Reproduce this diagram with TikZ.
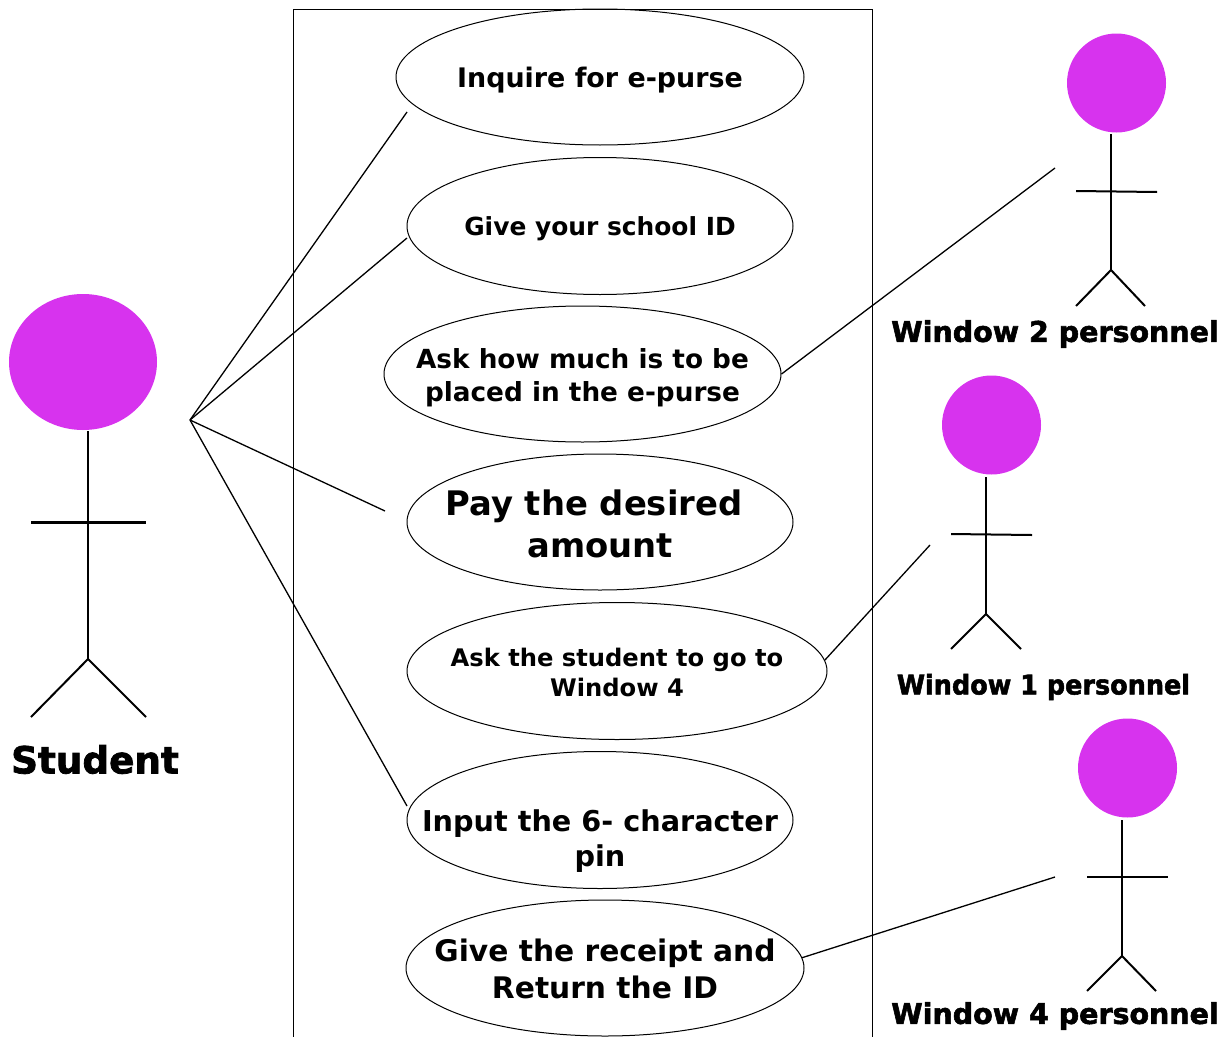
\documentclass[tikz,border=0pt]{standalone}
\usepackage{fontspec}
\setmainfont{DejaVu Sans}
\newfontfamily\heavyfont[FakeBold=2]{DejaVu Sans Bold}
\usetikzlibrary{shapes.geometric}
\definecolor{actorfill}{HTML}{D733EE}
\tikzset{
  x=1pt,y=-1pt,
  usecase/.style={draw,ellipse,inner sep=0pt,line width=1pt},
  uctext/.style={align=center,inner sep=0pt,font=\bfseries\fontsize{#1}{#1}\selectfont},
  head/.style={ellipse,fill=actorfill,inner sep=0pt},
  stick/.style={line width=2pt},
  bigstick/.style={line width=2.6pt},
  conn/.style={line width=1.3pt},
  actorlabel/.style={inner sep=0pt},
}
\begin{document}
\begin{tikzpicture}
\useasboundingbox (0,0) rectangle (1231,1036);
\draw[line width=1pt] (293,1040) -- (293,9) -- (872,9) -- (872,1040);

\node[usecase,minimum width=408pt,minimum height=136pt] (e1) at (600,77) {};
\node[uctext=26.9] (t1) at (600,80) {Inquire for e-purse};
\node[usecase,minimum width=386pt,minimum height=137pt] (e2) at (600,226) {};
\node[uctext=24.9] (t2) at (600,229) {Give your school ID};
\node[usecase,minimum width=397pt,minimum height=136pt] (e3) at (582.5,374) {};
\node[uctext=26.3,font=\bfseries\fontsize{26.3}{33}\selectfont] (t3) at (582.5,377.5) {Ask how much is to be\\placed in the e-purse};
\node[usecase,minimum width=386pt,minimum height=136pt] (e4) at (600,522) {};
\node[uctext=33.8,font=\bfseries\fontsize{33.8}{42}\selectfont] (t4) at (594,524) {Pay the desired\\\hspace*{12pt}amount};
\node[usecase,minimum width=420pt,minimum height=137pt] (e5) at (617,671) {};
\node[uctext=24.2,font=\bfseries\fontsize{24.2}{30}\selectfont] (t5) at (617,672) {Ask the student to go to\\Window 4};
\node[usecase,minimum width=386pt,minimum height=137pt] (e6) at (600,820) {};
\node[uctext=28.7,font=\bfseries\fontsize{28.7}{35}\selectfont] (t6) at (600,841) {Input the 6- character\\pin};
\node[usecase,minimum width=398pt,minimum height=136pt] (e7) at (605,968) {};
\node[uctext=29.7,font=\bfseries\fontsize{29.7}{37}\selectfont] (t7) at (605,969) {Give the receipt and\\Return the ID};

% Student
\node[head,minimum width=148pt,minimum height=136pt] (sh) at (83,362) {};
\coordinate (shub) at (190,420);
\coordinate (sb) at (88,659);
\draw[bigstick] (88,431) -- (sb);
\draw[bigstick] (31,522.5) -- (146,522.5);
\draw[stick] (31,717) -- (sb) -- (146,717);
\node[actorlabel,font=\heavyfont\fontsize{37.3}{40}\selectfont] (sl) at (95,759.5) {Student};

% Window 2
\node[head,minimum width=99pt,minimum height=99pt] (w2h) at (1116.5,83) {};
\coordinate (w2b) at (1111,270);
\draw[stick] (1111,134) -- (w2b);
\draw[stick] (1076,191) -- (1157,192);
\draw[stick] (1076,306) -- (w2b) -- (1145,306);
\node[actorlabel,font=\heavyfont\fontsize{28.5}{30}\selectfont] (w2l) at (1055,334) {Window 2 personnel};
\coordinate (w2c) at (1055,168);

% Window 1
\node[head,minimum width=99pt,minimum height=99pt] (w1h) at (991.5,425) {};
\coordinate (w1b) at (986,614);
\draw[stick] (986,477) -- (w1b);
\draw[stick] (951,534) -- (1032,535);
\draw[stick] (951,649) -- (w1b) -- (1021,649);
\node[actorlabel,font=\heavyfont\fontsize{27}{30}\selectfont] (w1l) at (1043.5,687) {\scalebox{.945}[1]{Window 1 personnel}};
\coordinate (w1c) at (930,545);

% Window 4
\node[head,minimum width=99pt,minimum height=99pt] (w4h) at (1127.5,768) {};
\coordinate (w4b) at (1122,956);
\draw[stick] (1122,820) -- (w4b);
\draw[stick] (1087,877) -- (1168,877);
\draw[stick] (1087,991) -- (w4b) -- (1156,991);
\node[actorlabel,font=\heavyfont\fontsize{28.5}{30}\selectfont] (w4l) at (1055,1016) {Window 4 personnel};
\coordinate (w4c) at (1055,877);

% Connectors
\coordinate (e1c) at (407,112);
\coordinate (e2c) at (407,238);
\coordinate (e4c) at (385,511);
\coordinate (e6c) at (407,806);
\draw[conn] (shub) -- (e1c);
\draw[conn] (shub) -- (e2c);
\draw[conn] (shub) -- (e4c);
\draw[conn] (shub) -- (e6c);
\draw[conn] (e3.east) -- (w2c);
\draw[conn] (e5.3) -- (w1c);
\draw[conn] (e7.3.5) -- (w4c);
\end{tikzpicture}
\end{document}
